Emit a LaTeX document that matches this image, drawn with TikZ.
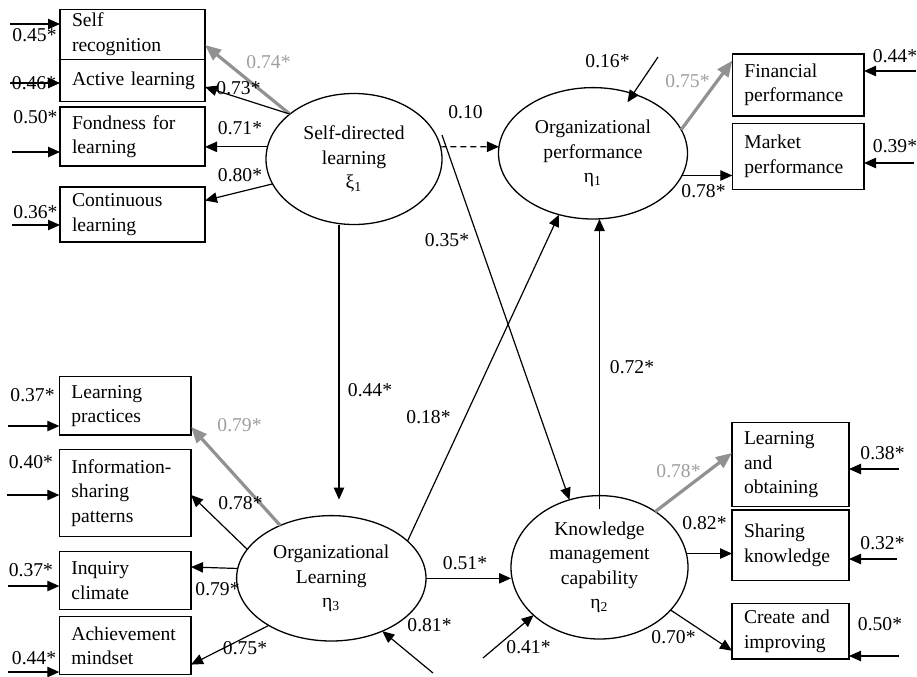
\documentclass[tikz,border=0pt]{standalone}
\usepackage{fontspec}
\setmainfont{Liberation Serif}
\usetikzlibrary{arrows.meta,shapes.geometric,calc}
\definecolor{arrgray}{RGB}{145,145,145}
\definecolor{labgray}{RGB}{158,158,158}
\begin{document}
\begin{tikzpicture}[x=0.5pt,y=-0.5pt,
  every node/.style={font=\fontsize{9.8}{12.2}\selectfont},
  box/.style={draw, line width=0.65pt, align=left, inner xsep=6pt, inner ysep=0pt, outer sep=0pt},
  boxA/.style={box, text width=60.5pt},
  boxB/.style={box, text width=53.85pt},
  boxC/.style={box, text width=46.5pt},
  latent/.style={draw, ellipse, line width=0.65pt, inner sep=0pt, outer sep=0pt, align=center},
  arr/.style={line width=0.6pt, -{Triangle[length=6pt,width=5.2pt]}},
  garr/.style={line width=1.6pt, draw=arrgray, -{Triangle[length=8pt,width=6.5pt]}},
  dsh/.style={line width=0.6pt, dash pattern=on 3pt off 2pt, -{Triangle[length=6pt,width=5.2pt]}},
  lab/.style={inner sep=0pt},
  glab/.style={lab, text=labgray}]
\useasboundingbox (0,0) rectangle (917,676);

% observed variables, left top
\node[boxA, minimum height=25pt]   (SR) at (132.5,34.3)  {Self\\recognition};
\node[boxA, minimum height=21.2pt] (AL) at (132.5,80.5)  {\mbox{Active learning}};
\node[boxA, minimum height=29.5pt] (FL) at (132.5,136.5) {Fondness for\\learning};
\node[boxA, minimum height=27.5pt] (CL) at (132.5,214.5) {Continuous\\learning};
% left bottom
\node[boxB, minimum height=29.15pt] (LP) at (125.2,405.9) {Learning\\practices};
\node[boxB, minimum height=43.7pt]  (IS) at (125.2,493)   {Information-\\sharing\\patterns};
\node[boxB, minimum height=28.8pt]  (IC) at (125.2,580.5) {Inquiry\\climate};
\node[boxB, minimum height=29pt]    (AM) at (125.2,645.6) {Achievement\\mindset};
% right top
\node[boxB, minimum height=31pt] (FP) at (798.2,85)    {Financial\\performance};
\node[boxB, minimum height=33pt] (MP) at (798.2,156.3) {Market\\performance};
% right bottom
\node[boxC, minimum height=42pt]    (LO) at (790.5,464.7) {Learning\\and\\obtaining};
\node[boxC, minimum height=35.35pt] (SK) at (790.5,545.3) {Sharing\\knowledge};
\node[boxC, minimum height=27.85pt] (CI) at (790.5,631.2) {Create and\\improving};

% latent variables
\node[latent, minimum width=88pt, minimum height=65.5pt] (SDL) at (354,159) {Self-directed\\learning\\ξ\textsubscript{1}};
\node[latent, minimum width=94.5pt, minimum height=65.7pt] (OP) at (593,153.3) {Organizational\\performance\\η\textsubscript{1}};
\node[latent, minimum width=94.7pt, minimum height=62.7pt] (OL) at (331.3,578.3) {Organizational\\Learning\\η\textsubscript{3}};
\node[latent, minimum width=88.5pt, minimum height=71.7pt] (KM) at (599.5,567.3) {Knowledge\\management\\capability\\η\textsubscript{2}};

% free ends of error arrows
\coordinate (eSR) at (10,24);
\coordinate (eAL) at (10,83);
\coordinate (eFL) at (12,152);
\coordinate (eCL) at (12,225);
\coordinate (eLP) at (8,426);
\coordinate (eIS) at (7,495);
\coordinate (eIC) at (8,586);
\coordinate (eAM) at (8,672);
\coordinate (eFP) at (916,71);
\coordinate (eMP) at (914,163);
\coordinate (eLO) at (899,469);
\coordinate (eSK) at (897,559);
\coordinate (eCI) at (899,656);
\coordinate (eOP) at (658,57);
\coordinate (eKM) at (483,658);
\coordinate (eOL) at (433,673);

% error arrows
\foreach \e/\b in {SR/west,AL/west,FL/west,CL/west,LP/west,IS/west,IC/west,AM/west,FP/east,MP/east,LO/east,SK/east,CI/east}
  \draw[arr] (e\e) -- (e\e -| \e.\b);
\draw[arr] (eOP) -- ($(eOP)!0.47!(OP.center)$);
\draw[arr] (eKM) -- (KM.216);
\draw[arr] (eOL) -- (OL.314);

% loadings of Self-directed learning
\draw[garr] (SDL.145) -- ([yshift=-5.35pt]SR.east);
\draw[arr] (SDL.145) -- ([yshift=-3.25pt]AL.east);
\draw[arr] (SDL.172) -- (SDL.172 -| FL.east);
\draw[arr] (SDL.197) -- ([yshift=7pt]CL.east);

% loadings of Organizational performance
\draw[garr] (OP.15) -- ([yshift=-3.3pt]FP.north west);
\draw[arr] (OP.346.4) -- (OP.346.4 -| MP.west);

% loadings of Knowledge management capability
\draw[garr] (KM.45) -- ([yshift=5.85pt]LO.west);
\draw[arr] (KM.9) -- (KM.9 -| SK.west);
\draw[arr] (KM.329) -- ([yshift=-9.75pt]CI.west);

% loadings of Organizational Learning
\draw[garr] (OL.134) -- ([yshift=-10.5pt]LP.east);
\draw[arr] (OL.161.6) -- ([yshift=-1pt]IS.east);
\draw[arr] (OL.174) -- ([yshift=6.75pt]IC.east);
\draw[arr] (OL.217.4) -- ([yshift=-9.5pt]AM.east);

% structural paths
\draw[dsh] (SDL.8) -- (OP.176);
\draw[arr] ([yshift=12pt]SDL.east) -- (KM.114);
\coordinate (sdlb) at ([xshift=-7.5pt]SDL.south);
\draw[arr] (sdlb) -- ($(sdlb |- OL.north)+(0,-16)$);
\draw[arr] (OL.26) -- (OP.241);
\draw[arr] (OL.east) -- (OL.east -| KM.west);
\coordinate (kmt) at ([yshift=-6.5pt]KM.north);
\draw[arr] (kmt) -- (kmt |- OP.south);

% labels
\node[glab] (l1) at (268.5,61.7) {0.74*};
\node[lab] (l2) at (238.5,88.3) {0.73*};
\node[lab] (l3) at (240,128) {0.71*};
\node[lab] (l4) at (240,175) {0.80*};
\node[lab] (l5) at (34.5,35) {0.45*};
\node[lab] (l6) at (34,82.7) {0.46*};
\node[lab] (l7) at (35.5,117) {0.50*};
\node[lab] (l8) at (35.5,211.7) {0.36*};
\node[lab] (l9) at (465.5,112) {0.10};
\node[lab] (l10) at (447,240) {0.35*};
\node[lab] (l11) at (607.5,60.7) {0.16*};
\node[glab] (l12) at (687.5,81) {0.75*};
\node[lab] (l13) at (703.5,190.7) {0.78*};
\node[lab] (l14) at (895,56) {0.44*};
\node[lab] (l15) at (895,145.7) {0.39*};
\node[lab] (l16) at (370,390) {0.44*};
\node[lab] (l17) at (632,367) {0.72*};
\node[lab] (l18) at (428.5,417) {0.18*};
\node[lab] (l19) at (32.5,395) {0.37*};
\node[lab] (l20) at (31,461.7) {0.40*};
\node[lab] (l21) at (31,570) {0.37*};
\node[lab] (l22) at (34,658) {0.44*};
\node[glab] (l23) at (239.5,425) {0.79*};
\node[lab] (l24) at (240.5,502.7) {0.78*};
\node[lab] (l25) at (217.5,589) {0.79*};
\node[lab] (l26) at (245,648) {0.75*};
\node[lab] (l27) at (429.5,625) {0.81*};
\node[lab] (l28) at (465,563.3) {0.51*};
\node[lab] (l29) at (528.5,646.7) {0.41*};
\node[glab] (l30) at (678.5,471) {0.78*};
\node[lab] (l31) at (704.5,522.7) {0.82*};
\node[lab] (l32) at (673.5,637) {0.70*};
\node[lab] (l33) at (882.5,452.7) {0.38*};
\node[lab] (l34) at (882.5,543) {0.32*};
\node[lab] (l35) at (880,624) {0.50*};
\end{tikzpicture}
\end{document}
